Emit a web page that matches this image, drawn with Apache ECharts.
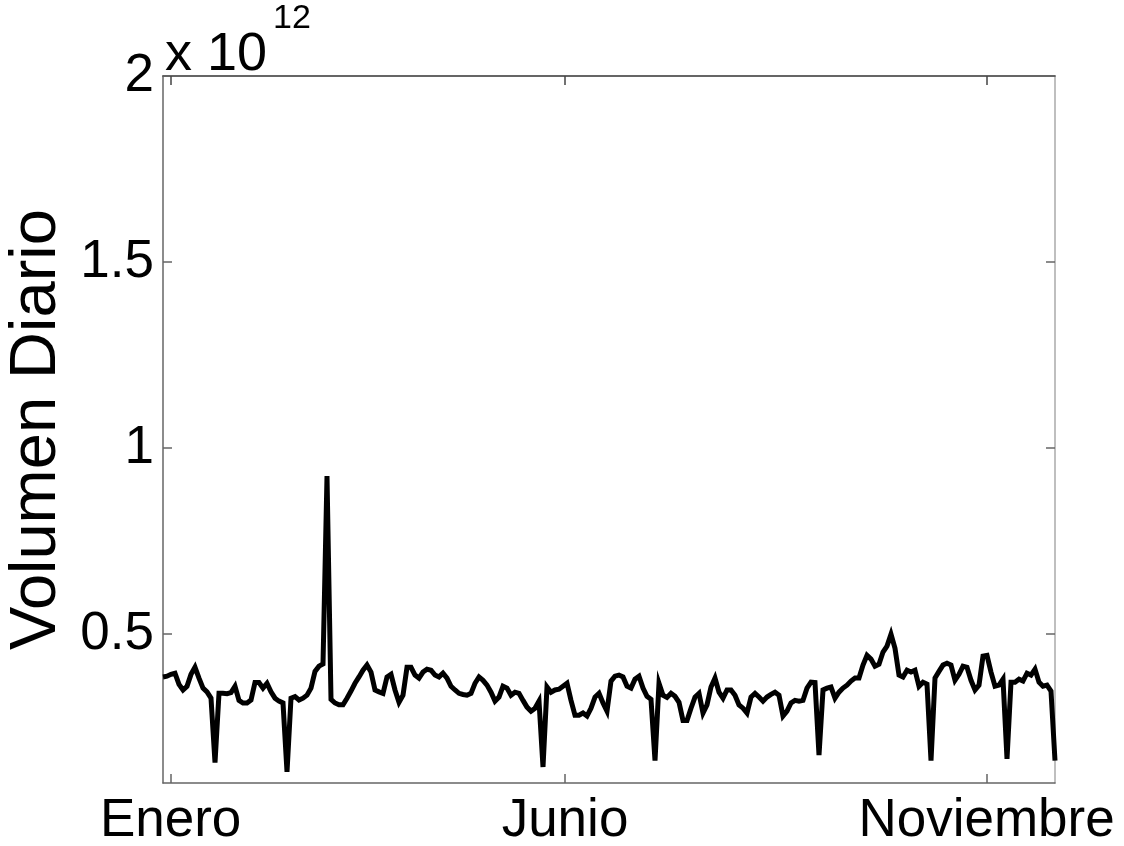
<!DOCTYPE html>
<html>
<head>
<meta charset="utf-8">
<script src="https://cdn.jsdelivr.net/npm/echarts@6/dist/echarts.min.js"></script>
<style>
html,body{margin:0;padding:0;background:#fff;}
#chart{width:1124px;height:846px;}
</style>
</head>
<body>
<div id="chart"></div>
<script>
// Daily volume in units of 10^12, one value per trading day
const volume = [
  0.385,0.387,0.392,0.395,0.365,0.350,0.360,0.392,0.411,0.382,
  0.355,0.345,0.328,0.155,0.341,0.341,0.340,0.343,0.360,0.322,
  0.315,0.315,0.323,0.370,0.370,0.355,0.368,0.345,0.328,0.320,
  0.315,0.130,0.328,0.332,0.323,0.328,0.336,0.355,0.400,0.414,
  0.420,0.925,0.325,0.315,0.310,0.310,0.328,0.347,0.368,0.385,
  0.403,0.417,0.398,0.350,0.345,0.341,0.385,0.392,0.350,0.317,
  0.336,0.411,0.411,0.390,0.382,0.398,0.406,0.403,0.390,0.385,
  0.395,0.382,0.360,0.350,0.341,0.338,0.336,0.341,0.368,0.385,
  0.376,0.363,0.344,0.320,0.331,0.360,0.355,0.336,0.344,0.341,
  0.322,0.304,0.293,0.301,0.320,0.143,0.358,0.344,0.350,0.352,
  0.360,0.368,0.322,0.282,0.282,0.288,0.280,0.301,0.331,0.341,
  0.315,0.293,0.374,0.387,0.390,0.385,0.360,0.355,0.379,0.387,
  0.355,0.333,0.325,0.160,0.368,0.336,0.330,0.341,0.333,0.317,
  0.268,0.268,0.301,0.331,0.341,0.288,0.310,0.358,0.382,0.344,
  0.328,0.350,0.350,0.336,0.310,0.301,0.288,0.331,0.341,0.331,
  0.320,0.331,0.338,0.344,0.336,0.280,0.293,0.315,0.322,0.320,
  0.322,0.355,0.371,0.370,0.175,0.350,0.355,0.358,0.328,0.344,
  0.355,0.363,0.374,0.382,0.382,0.417,0.443,0.433,0.414,0.419,
  0.452,0.468,0.500,0.462,0.390,0.385,0.403,0.398,0.403,0.360,
  0.371,0.366,0.160,0.382,0.400,0.417,0.422,0.417,0.376,0.392,
  0.414,0.411,0.376,0.350,0.363,0.441,0.443,0.398,0.360,0.363,
  0.379,0.165,0.371,0.371,0.379,0.374,0.395,0.390,0.406,0.371,
  0.360,0.363,0.347,0.160
];
const monthLabels = ['Enero', 'Junio', 'Noviembre'];
const monthPositions = [1.9, 100.5, 205.9];   // day index of each month tick
const yTicks = [0.5, 1, 1.5, 2];
const yMin = 0.1, yMax = 2;
const yAxisTitle = 'Volumen Diario';
const exponentBase = 'x 10';
const exponentPower = '12';

const seriesData = volume.map((v, i) => [i, v]);
const FONT = 'Liberation Sans, Arial, Helvetica, sans-serif';

const chart = echarts.init(document.getElementById('chart'), null, {renderer: 'canvas'});
chart.setOption({
  animation: false,
  backgroundColor: '#ffffff',
  grid: {left: 163, right: 69, top: 76, bottom: 63, containLabel: false, outerBoundsMode: 'none'},
  xAxis: [{
    type: 'value', min: 0, max: volume.length - 1, position: 'bottom',
    axisLine: {show: true, lineStyle: {color: '#666', width: 1.5}},
    axisTick: {show: true, inside: true, length: 9, customValues: monthPositions, lineStyle: {color: '#666', width: 1.5}},
    axisLabel: {show: true, customValues: monthPositions, margin: 12,
      formatter: v => monthLabels[monthPositions.indexOf(v)] || '',
      color: '#000', fontSize: 53, fontFamily: FONT},
    splitLine: {show: false}
  }, {
    type: 'value', min: 0, max: volume.length - 1, position: 'top',
    axisLine: {show: true, onZero: false, lineStyle: {color: '#333', width: 1.5}},
    axisTick: {show: true, inside: true, length: 9, customValues: monthPositions, lineStyle: {color: '#444', width: 1.5}},
    axisLabel: {show: false}, splitLine: {show: false}
  }],
  yAxis: [{
    type: 'value', min: yMin, max: yMax, position: 'left',
    name: yAxisTitle, nameLocation: 'middle', nameGap: 90, nameRotate: 90,
    nameTextStyle: {color: '#000', fontSize: 65, fontFamily: FONT},
    axisLine: {show: true, lineStyle: {color: '#666', width: 1.5}},
    axisTick: {show: true, inside: true, length: 9, customValues: yTicks, lineStyle: {color: '#666', width: 1.5}},
    axisLabel: {show: true, customValues: yTicks, margin: 9, formatter: v => String(v),
      color: '#000', fontSize: 53, fontFamily: FONT},
    splitLine: {show: false}
  }, {
    type: 'value', min: yMin, max: yMax, position: 'right',
    axisLine: {show: true, onZero: false, lineStyle: {color: '#aaa', width: 1.5}},
    axisTick: {show: true, inside: true, length: 9, customValues: yTicks, lineStyle: {color: '#666', width: 1.5}},
    axisLabel: {show: false}, splitLine: {show: false}
  }],
  graphic: [{
    type: 'text', left: 165, top: 28,
    style: {text: exponentBase, fill: '#000', fontSize: 54, fontFamily: FONT}
  }, {
    type: 'text', left: 273, top: 2,
    style: {text: exponentPower, fill: '#000', fontSize: 34, fontFamily: FONT}
  }],
  series: [{
    type: 'line', xAxisIndex: 0, yAxisIndex: 0,
    data: seriesData, showSymbol: false, symbol: 'none',
    lineStyle: {color: '#000', width: 5, join: 'miter'},
    z: 3
  }]
});
</script>
</body>
</html>
